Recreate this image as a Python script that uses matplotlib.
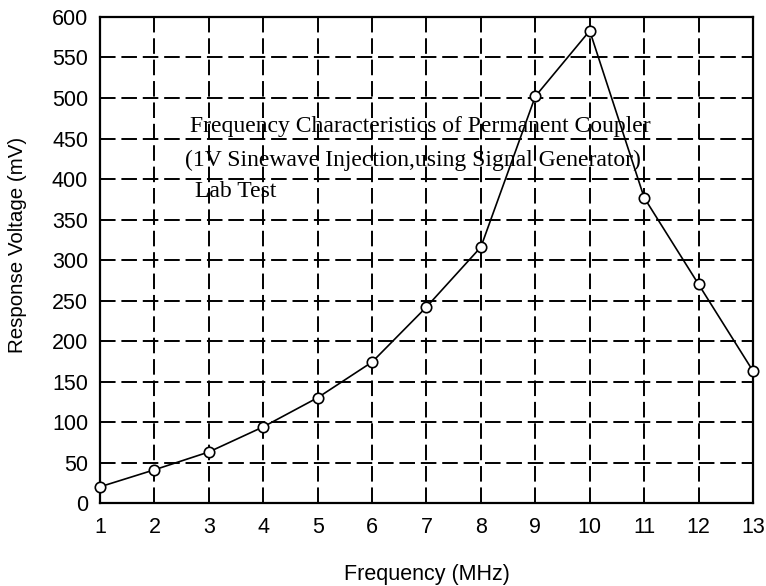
import matplotlib
matplotlib.use('Agg')
import matplotlib.pyplot as plt

freq_mhz = [1, 2, 3, 4, 5, 6, 7, 8, 9, 10, 11, 12, 13]
response_mv = [20, 41, 63, 94, 130, 174, 242, 316, 502, 583, 377, 270, 163]
yticks = list(range(0, 601, 50))

fig = plt.figure(figsize=(7.66, 5.86), dpi=100)
ax = fig.add_axes([0.1305, 0.1416, 0.8525, 0.8294])

# dashed grid behind the data
for x in freq_mhz[1:-1]:
    ax.axvline(x, color='black', linewidth=1.4, linestyle=(0, (8, 3)), zorder=1)
for y in yticks[1:-1]:
    ax.axhline(y, color='black', linewidth=1.4, linestyle=(0, (8, 3)), zorder=1)

ax.plot(freq_mhz, response_mv, color='black', linewidth=1.2, marker='o',
        markersize=7.5, markerfacecolor='white', markeredgecolor='black',
        markeredgewidth=1.2, zorder=3, clip_on=False)

ax.set_xlim(1, 13)
ax.set_ylim(0, 600)
ax.set_xticks(freq_mhz)
ax.set_yticks(yticks)
ax.tick_params(length=0, labelsize=15.5)
ax.tick_params(axis='x', pad=10)
ax.tick_params(axis='y', pad=8.5)
for lbl in ax.get_xticklabels() + ax.get_yticklabels():
    lbl.set_family('Liberation Sans')
for s in ax.spines.values():
    s.set_linewidth(1.6)

xl = ax.set_xlabel('Frequency (MHz)', fontsize=15.5, family='Liberation Sans')
yl = ax.set_ylabel('Response Voltage (mV)', fontsize=14.8, family='Liberation Sans')
ax.xaxis.set_label_coords(0.5, -0.148)
ax.yaxis.set_label_coords(-0.1256, 0.532)
xl.set_va('center')
yl.set_va('center')

# annotation in serif, like the original
ax.text(2.655, 465, 'Frequency Characteristics of Permanent Coupler', fontsize=17,
        family='Liberation Serif', va='center', ha='left', zorder=2)
ax.text(2.555, 423, '(1V Sinewave Injection,using Signal Generator)', fontsize=17,
        family='Liberation Serif', va='center', ha='left', zorder=2)
ax.text(2.755, 384, 'Lab Test', fontsize=17,
        family='Liberation Serif', va='center', ha='left', zorder=2)

fig.savefig('out.png', dpi=100)
